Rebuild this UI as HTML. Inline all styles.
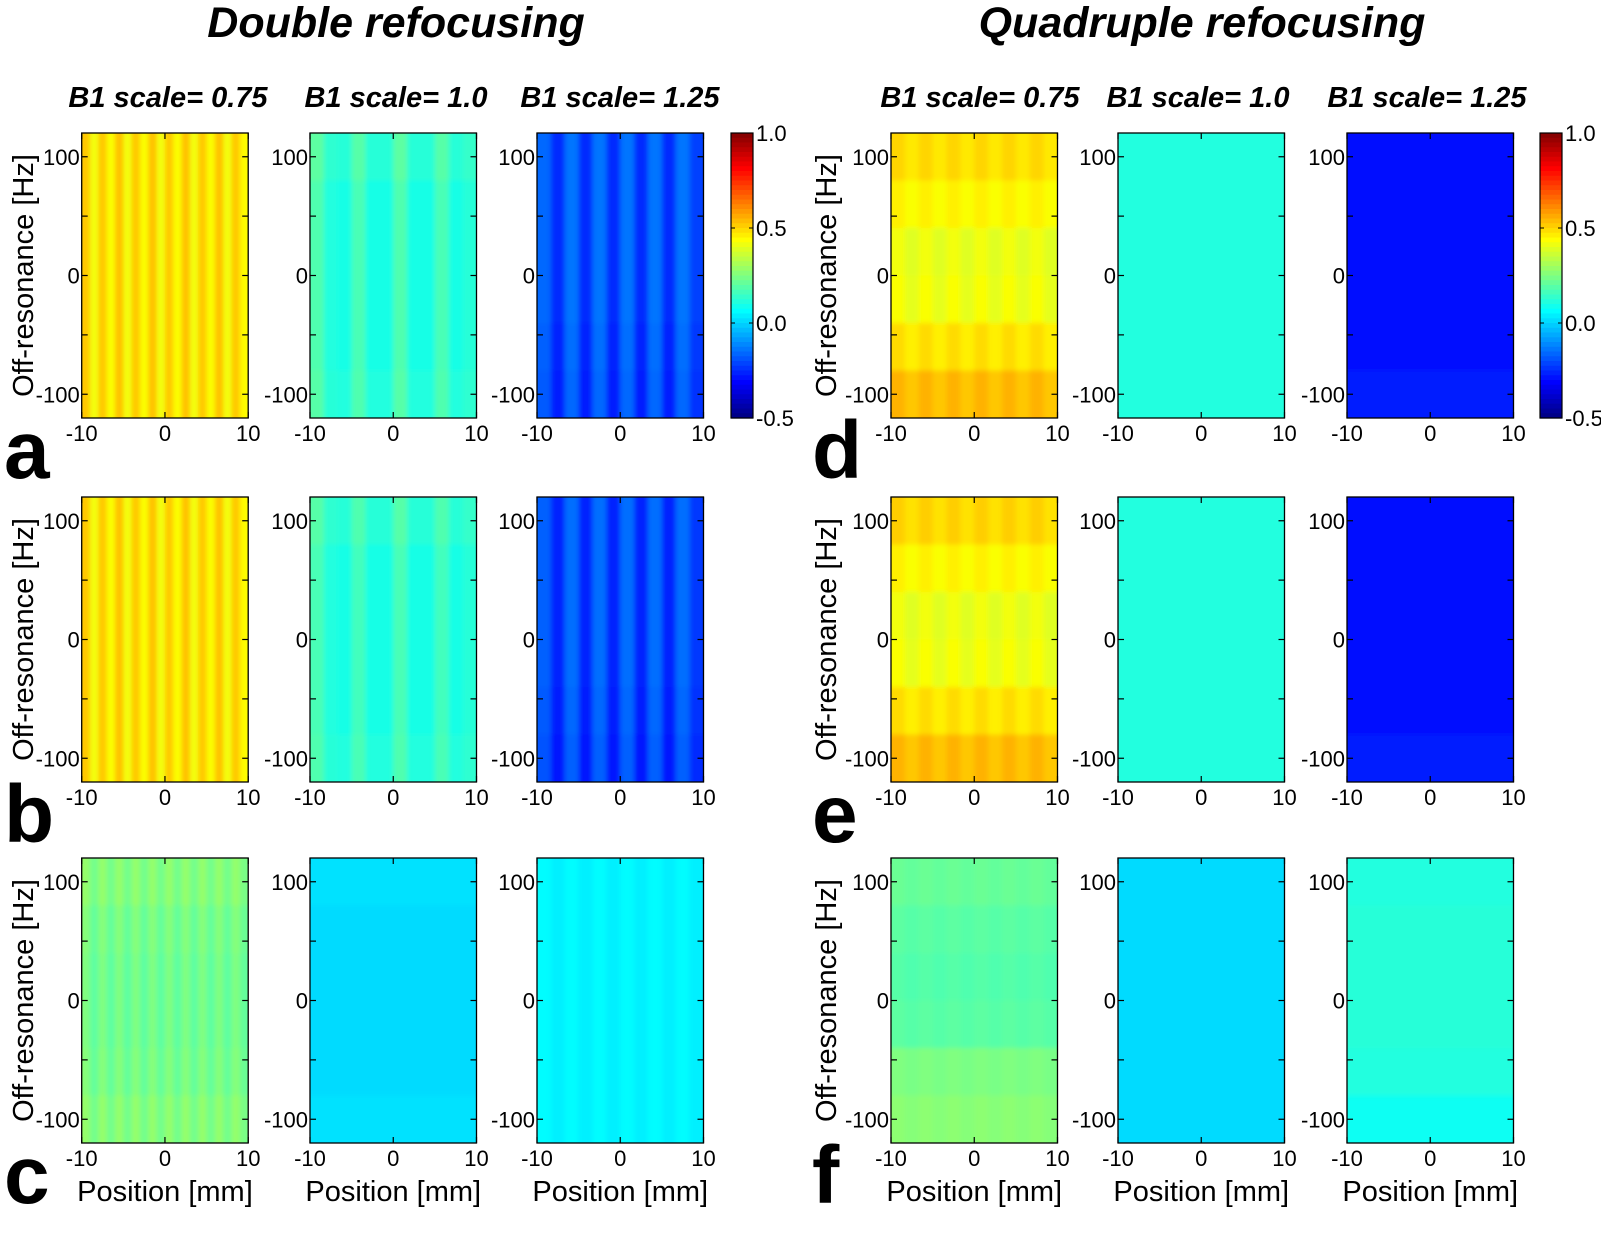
<!DOCTYPE html>
<html><head><meta charset="utf-8"><style>
html,body{margin:0;padding:0;background:#fff;}
svg{display:block;font-family:"Liberation Sans",Arial,sans-serif;}
</style></head><body>
<svg id="fig" width="1601" height="1248" viewBox="0 0 1601 1248" xmlns="http://www.w3.org/2000/svg">
<defs>
<filter id="blur" x="-5%" y="-5%" width="110%" height="110%"><feGaussianBlur stdDeviation="2.5"/></filter>
</defs>
<text x="396" y="37" text-anchor="middle" font-size="43" font-weight="bold" font-style="italic">Double refocusing</text>
<text x="1202" y="37" text-anchor="middle" font-size="43" font-weight="bold" font-style="italic">Quadruple refocusing</text>
<g id="layer"></g>
</svg>
<script>
// Heatmap data (value = row offset + column value), colormap range -0.5..1.0
const a1Cols=[0.52,0.42,0.52,0.43,0.53,0.42,0.52,0.43,0.53,0.42,0.52,0.43,0.53,0.42,0.52,0.43,0.53,0.42,0.52,0.44];
const a1Rows=[0.0,0.0,0.0,0.0,0.0,0.0];
const a2Cols=[0.18,0.11,0.10,0.17,0.10,0.10,0.18,0.10,0.10,0.17,0.10,0.12];
const a2Rows=[0.02,0.0,0.0,0.0,0.0,0.01];
const a3Cols=[-0.16,-0.25,-0.14,-0.25,-0.14,-0.25,-0.14,-0.25,-0.14,-0.25,-0.14,-0.22];
const a3Rows=[0.0,0.0,0.0,0.0,-0.01,-0.02];
const b1Cols=a1Cols.slice();
const b1Rows=[0.0,0.0,0.0,0.0,0.0,0.0];
const b2Cols=[0.17,0.11,0.10,0.16,0.10,0.10,0.17,0.10,0.10,0.16,0.10,0.12];
const b2Rows=[0.02,0.0,0.0,0.0,0.0,0.01];
const b3Cols=[-0.17,-0.26,-0.15,-0.26,-0.15,-0.26,-0.15,-0.26,-0.15,-0.26,-0.15,-0.23];
const b3Rows=[0.0,0.0,0.0,0.0,-0.01,-0.02];
const c1Cols=[0.28,0.23,0.28,0.23,0.28,0.23,0.28,0.23,0.28,0.23,0.28,0.23,0.28,0.23,0.28,0.23,0.28,0.23,0.28,0.24];
const c1Rows=[0.0,-0.02,-0.03,-0.03,-0.02,0.0];
const c2Cols=[0.01,0.01,0.01,0.01,0.01,0.01,0.01,0.01,0.01,0.01,0.01,0.01];
const c2Rows=[0.01,0.0,0.0,0.0,0.0,0.01];
const c3Cols=[0.06,0.04,0.06,0.04,0.06,0.04,0.06,0.04,0.06,0.04,0.06,0.04];
const c3Rows=[0.0,0.0,0.0,0.0,0.0,0.0];
const d1Cols=[0.03,0.0,0.03,0.0,0.03,0.0,0.03,0.0,0.03,0.0,0.03,0.0];
const d1Rows=[0.47,0.43,0.39,0.40,0.46,0.52];
const d2Cols=[0.11,0.11,0.11,0.11,0.11,0.11,0.11,0.11,0.11,0.11,0.11,0.11];
const d2Rows=[0.0,0.0,0.0,0.0,0.0,0.0];
const d3Cols=[-0.29,-0.29,-0.29,-0.29,-0.29,-0.29,-0.29,-0.29,-0.29,-0.29,-0.29,-0.29];
const d3Rows=[0.0,0.0,0.0,-0.01,0.0,0.02];
const e1Cols=d1Cols.slice();
const e1Rows=[0.48,0.43,0.39,0.40,0.46,0.52];
const e2Cols=d2Cols.slice();
const e2Rows=[0.0,0.0,0.0,0.0,0.0,0.0];
const e3Cols=d3Cols.slice();
const e3Rows=[0.0,0.0,0.0,-0.01,0.0,0.02];
const f1Cols=[0.01,0.0,0.01,0.0,0.01,0.0,0.01,0.0,0.01,0.0,0.01,0.0];
const f1Rows=[0.21,0.19,0.18,0.19,0.24,0.26];
const f2Cols=[0.01,0.01,0.01,0.01,0.01,0.01,0.01,0.01,0.01,0.01,0.01,0.01];
const f2Rows=[0.0,0.0,0.0,0.0,0.0,0.0];
const f3Cols=[0.0,0.0,0.0,0.0,0.0,0.0,0.0,0.0,0.0,0.0,0.0,0.0];
const f3Rows=[0.11,0.12,0.12,0.12,0.11,0.08];
const yTicks=[-100,-50,0,50,100];
const yTickLabels=[-100,0,100];
const xTicks=[-10,0,10];
const cbTicks=[1.0,0.5,0.0,-0.5];
const cbTickLabels=["1.0","0.5","0.0","-0.5"];

const NS="http://www.w3.org/2000/svg";
const layer=document.getElementById('layer');
const vmin=-0.5,vmax=1.0;
function clamp(v){return Math.max(0,Math.min(1,v));}
function jet(v){const t=clamp((v-vmin)/(vmax-vmin));
 const r=clamp(1.5-Math.abs(4*t-3)),g=clamp(1.5-Math.abs(4*t-2)),b=clamp(1.5-Math.abs(4*t-1));
 return `rgb(${Math.round(r*255)},${Math.round(g*255)},${Math.round(b*255)})`;}
function mk(tag,attrs,parent){const e=document.createElementNS(NS,tag);for(const k in attrs)e.setAttribute(k,attrs[k]);(parent||layer).appendChild(e);return e;}

const PW=166.5,PH=285;
const lefts=[81.7,310,537,891,1118,1347];
const tops=[133,497,858];
const panels=[
 ['a',[a1Cols,a1Rows],[a2Cols,a2Rows],[a3Cols,a3Rows]],
 ['b',[b1Cols,b1Rows],[b2Cols,b2Rows],[b3Cols,b3Rows]],
 ['c',[c1Cols,c1Rows],[c2Cols,c2Rows],[c3Cols,c3Rows]],
 ['d',[d1Cols,d1Rows],[d2Cols,d2Rows],[d3Cols,d3Rows]],
 ['e',[e1Cols,e1Rows],[e2Cols,e2Rows],[e3Cols,e3Rows]],
 ['f',[f1Cols,f1Rows],[f2Cols,f2Rows],[f3Cols,f3Rows]]
];
let clipId=0;
panels.forEach((p,pi)=>{
 const grp=pi<3?0:1, row=pi%3, top=tops[row];
 for(let k=0;k<3;k++){
  const left=lefts[grp*3+k];
  const cols=p[k+1][0], rows=p[k+1][1];
  const xs=v=>left+(v+10)/20*PW;
  const ys=v=>top+(120-v)/240*PH;
  const g=mk('g',{});
  
  
  const cid='clip'+(clipId++);
  const cp=mk('clipPath',{id:cid},g);
  mk('rect',{x:left,y:top,width:PW,height:PH},cp);
  const cg=mk('g',{'clip-path':`url(#${cid})`},g);
  const ig=mk('g',{filter:'url(#blur)'},cg);
  const cw=PW/cols.length, rh=PH/rows.length;
  rows.forEach((rv,ri)=>{cols.forEach((cv,ci)=>{
   const c=mk('rect',{x:left+ci*cw-(ci===0?6:0),y:top+ri*rh-(ri===0?6:0),width:cw+0.8+(ci===0||ci===cols.length-1?6:0),height:rh+0.8+(ri===0||ri===rows.length-1?6:0),fill:jet(rv+cv)},ig);
   
   
  });});
  const fr=mk('rect',{x:left,y:top,width:PW,height:PH,fill:'none',stroke:'#000','stroke-width':1.3},g);
  
  
  yTicks.forEach(t=>{const y=ys(t);
   mk('line',{x1:left,x2:left+6,y1:y,y2:y,stroke:'#000','stroke-width':1.2},g);
   mk('line',{x1:left+PW,x2:left+PW-6,y1:y,y2:y,stroke:'#000','stroke-width':1.2},g);});
  yTickLabels.forEach(t=>{const tl=mk('text',{x:left-2,y:ys(t)+8,'text-anchor':'end','font-size':22},g);tl.textContent=t;
   
   });
  xTicks.forEach(t=>{const x=xs(t);
   mk('line',{x1:x,x2:x,y1:top+PH,y2:top+PH-6,stroke:'#000','stroke-width':1.2},g);
   mk('line',{x1:x,x2:x,y1:top,y2:top+6,stroke:'#000','stroke-width':1.2},g);
   const tl=mk('text',{x:x,y:top+PH+23,'text-anchor':'middle','font-size':22},g);tl.textContent=t;
   
   });
  if(row===2){const xl=mk('text',{x:left+PW/2,y:1201,'text-anchor':'middle','font-size':29},g);xl.textContent='Position [mm]';
   
   }
 }
 const yx=grp===0?33:836, cy=top+PH/2;
 const yl=mk('text',{x:yx,y:cy,'text-anchor':'middle','font-size':29,transform:`rotate(-90 ${yx} ${cy})`});
 yl.textContent='Off-resonance [Hz]';
 
 
 const lx=grp===0?4:812;
 const lt=mk('text',{x:lx,y:top+PH+60,'font-size':82,'font-weight':'bold'});
 lt.textContent=p[0];
 
 
});
// subtitles
const subX=[168,396,620,980,1198,1427];
const subT=['B1 scale= 0.75','B1 scale= 1.0','B1 scale= 1.25','B1 scale= 0.75','B1 scale= 1.0','B1 scale= 1.25'];
subX.forEach((x,i)=>{const s=mk('text',{x:x,y:107,'text-anchor':'middle','font-size':29,'font-weight':'bold','font-style':'italic'});s.textContent=subT[i];
 
 });
// colorbars
[731,1540].forEach((cx,ci)=>{
 const g=mk('g',{});
 
 
 const top=133,h=285,w=22,n=60;
 for(let i=0;i<n;i++){const v=vmax-(i+0.5)/n*(vmax-vmin);
  mk('rect',{x:cx,y:top+i*h/n,width:w,height:h/n+0.6,fill:jet(v)},g);}
 mk('rect',{x:cx,y:top,width:w,height:h,fill:'none',stroke:'#000','stroke-width':1.2},g);
 const cys=v=>top+(vmax-v)/(vmax-vmin)*h;
 cbTicks.forEach((t,i)=>{const y=cys(t);
  mk('line',{x1:cx,x2:cx+4,y1:y,y2:y,stroke:'#000'},g);
  mk('line',{x1:cx+w,x2:cx+w-4,y1:y,y2:y,stroke:'#000'},g);
  const tl=mk('text',{x:cx+w+3,y:y+8,'font-size':22},g);tl.textContent=cbTickLabels[i];
  
  });
});
</script>
</body></html>
